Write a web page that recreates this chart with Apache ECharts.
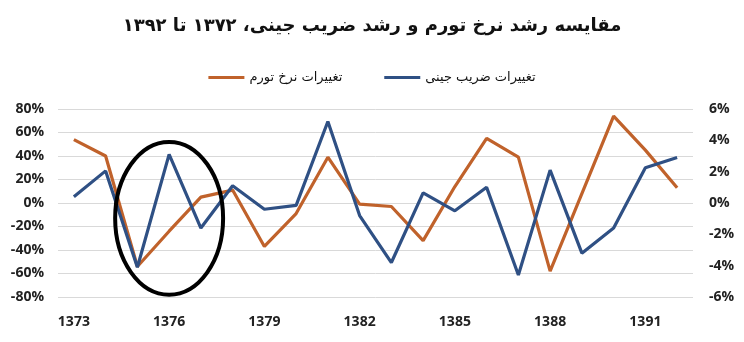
<!DOCTYPE html>
<html>
<head>
<meta charset="utf-8">
<script src="https://cdn.jsdelivr.net/npm/echarts@6/dist/echarts.min.js"></script>
<style>html,body{margin:0;padding:0;background:#fff;}#c{width:744px;height:342px;}</style>
</head>
<body>
<div id="c"></div>
<script>
var titleText = 'مقایسه رشد نرخ تورم و رشد ضریب جینی، ۱۳۷۲ تا ۱۳۹۲';
var years = ['1373','1374','1375','1376','1377','1378','1379','1380','1381','1382','1383','1384','1385','1386','1387','1388','1389','1390','1391','1392'];
var inflationName = 'تغییرات نرخ تورم';
var giniName = 'تغییرات ضریب جینی';
var inflationChange = [54, 40, -54, -24, 5, 11, -37, -9, 39, -1, -3, -32, 14, 55, 39, -58, 8, 74, 45, 13];
var giniChange = [0.4, 2.05, -4.1, 3.1, -1.6, 1.1, -0.4, -0.15, 5.2, -0.8, -3.8, 0.65, -0.5, 1.0, -4.6, 2.1, -3.2, -1.6, 2.25, 2.9];
var leftTicks = {min: -80, max: 80, interval: 20};
var rightTicks = {min: -6, max: 6, interval: 2};
var highlight = {category: '1376', value: -13, halfWidthBands: 1.7, halfHeightValue: 65};

var chart = echarts.init(document.getElementById('c'), null, {renderer: 'canvas'});
var lblFont = {color: '#222', fontFamily: 'Open Sans', fontWeight: 'bold', fontSize: 14};
chart.setOption({
  animation: false,
  backgroundColor: '#fff',
  title: {
    text: titleText, left: 'center', top: 12,
    textStyle: {fontFamily: 'DejaVu Sans', fontWeight: 'bold', fontSize: 18, color: '#111'}
  },
  legend: {
    top: 66, left: 'center', itemGap: 42, itemWidth: 36, itemHeight: 3, icon: 'rect',
    textStyle: {fontFamily: 'DejaVu Sans', fontSize: 13, color: '#111'},
    data: [inflationName, giniName]
  },
  grid: {left: 58, right: 51, top: 109, bottom: 45},
  xAxis: {
    type: 'category', data: years, boundaryGap: true,
    axisLine: {show: false}, axisTick: {show: false},
    axisLabel: Object.assign({interval: 2, margin: 18}, lblFont)
  },
  yAxis: [
    {type: 'value', min: leftTicks.min, max: leftTicks.max, interval: leftTicks.interval,
     axisLine: {show: false}, axisTick: {show: false},
     axisLabel: Object.assign({formatter: '{value}%', margin: 14}, lblFont),
     splitLine: {lineStyle: {color: '#d9d9d9', width: 1}}},
    {type: 'value', min: rightTicks.min, max: rightTicks.max, interval: rightTicks.interval,
     axisLine: {show: false}, axisTick: {show: false},
     axisLabel: Object.assign({formatter: '{value}%', margin: 16}, lblFont),
     splitLine: {show: false}}
  ],
  series: [
    {name: inflationName, type: 'line', yAxisIndex: 0, data: inflationChange, symbol: 'none',
     lineStyle: {color: '#c0622b', width: 3.2}, itemStyle: {color: '#c0622b'}, z: 2},
    {name: giniName, type: 'line', yAxisIndex: 1, data: giniChange, symbol: 'none',
     lineStyle: {color: '#2f5084', width: 3.2}, itemStyle: {color: '#2f5084'}, z: 3}
  ]
});

var idx = years.indexOf(highlight.category);
var c0 = chart.convertToPixel({xAxisIndex: 0, yAxisIndex: 0}, [idx, highlight.value]);
var c1 = chart.convertToPixel({xAxisIndex: 0, yAxisIndex: 0}, [idx + 1, highlight.value + highlight.halfHeightValue]);
var bw = c1[0] - c0[0];
chart.setOption({
  graphic: [{
    type: 'ellipse', z: 10,
    shape: {cx: c0[0], cy: c0[1], rx: bw * highlight.halfWidthBands, ry: Math.abs(c0[1] - c1[1])},
    style: {fill: 'none', stroke: '#000', lineWidth: 4}
  }]
});
</script>
</body>
</html>
